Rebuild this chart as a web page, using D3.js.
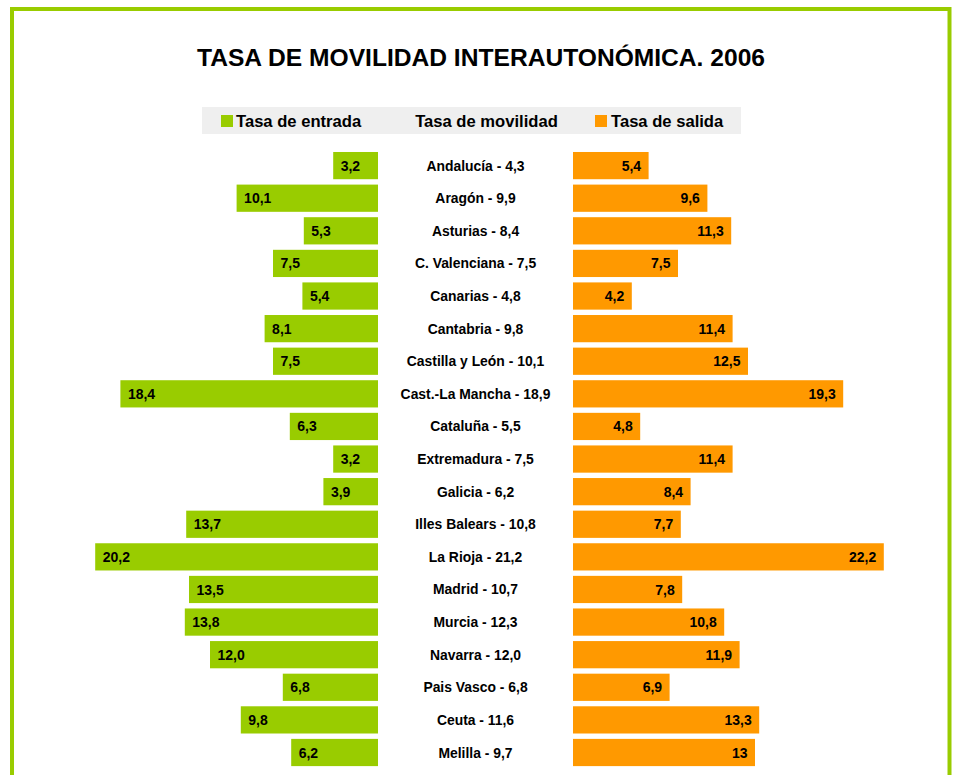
<!DOCTYPE html>
<html lang="es">
<head>
	<meta charset="UTF-8">
	<title>Tasa de movilidad interautonómica 2006</title>
	<script src="https://d3js.org/d3.v7.min.js"></script>
	<style>
		body { margin: 0; background: #fff; font-family: "Liberation Sans", Arial, sans-serif; }
		text { font-family: "Liberation Sans", Arial, sans-serif; font-weight: bold; fill: #000; }
	</style>
</head>
<body>
<div id="chart"></div>
<script>

	// Data
	const regions = ["Andalucía", "Aragón", "Asturias", "C. Valenciana", "Canarias", "Cantabria",
		"Castilla y León", "Cast.-La Mancha", "Cataluña", "Extremadura", "Galicia", "Illes Balears",
		"La Rioja", "Madrid", "Murcia", "Navarra", "Pais Vasco", "Ceuta", "Melilla"];
	const entrada = [3.2, 10.1, 5.3, 7.5, 5.4, 8.1, 7.5, 18.4, 6.3, 3.2, 3.9, 13.7, 20.2, 13.5, 13.8, 12.0, 6.8, 9.8, 6.2];
	const movilidad = [4.3, 9.9, 8.4, 7.5, 4.8, 9.8, 10.1, 18.9, 5.5, 7.5, 6.2, 10.8, 21.2, 10.7, 12.3, 12.0, 6.8, 11.6, 9.7];
	const salida = [5.4, 9.6, 11.3, 7.5, 4.2, 11.4, 12.5, 19.3, 4.8, 11.4, 8.4, 7.7, 22.2, 7.8, 10.8, 11.9, 6.9, 13.3, 13];
	const salidaLabels = ["5,4", "9,6", "11,3", "7,5", "4,2", "11,4", "12,5", "19,3", "4,8", "11,4", "8,4", "7,7", "22,2", "7,8", "10,8", "11,9", "6,9", "13,3", "13"];
	const legendLabels = ["Tasa de entrada", "Tasa de movilidad", "Tasa de salida"];

	const green = "#99CC00", orange = "#FF9900";
	const W = 956, H = 775;
	const fmt = v => v.toFixed(1).replace(".", ",");

	const data = regions.map((r, i) => ({
		region: r, entrada: entrada[i], movilidad: movilidad[i], salida: salida[i], salidaLabel: salidaLabels[i]
	}));

	const svg = d3.select("#chart").append("svg")
		.attr("width", W)
		.attr("height", H);

	// frame
	svg.append("rect")
		.attr("x", 12).attr("y", 9)
		.attr("width", 937.5).attr("height", 800)
		.attr("fill", "none")
		.attr("stroke", green)
		.attr("stroke-width", 4);

	// title
	svg.append("text")
		.attr("x", 481).attr("y", 66)
		.attr("text-anchor", "middle")
		.style("font-size", "24.6px")
		.text("TASA DE MOVILIDAD INTERAUTONÓMICA. 2006");

	// legend band
	svg.append("rect")
		.attr("x", 202).attr("y", 107)
		.attr("width", 539).attr("height", 27)
		.attr("fill", "#EFEFEF");

	const legend = svg.append("g").style("font-size", "16.6px");
	legend.append("rect").attr("x", 221).attr("y", 115).attr("width", 12).attr("height", 12).attr("fill", green);
	legend.append("text").attr("x", 236).attr("y", 127).text(legendLabels[0]);
	legend.append("text").attr("x", 486.5).attr("y", 127).attr("text-anchor", "middle").text(legendLabels[1]);
	legend.append("rect").attr("x", 595).attr("y", 115).attr("width", 12).attr("height", 12).attr("fill", orange);
	legend.append("text").attr("x", 611).attr("y", 127).text(legendLabels[2]);

	// scales
	const y = d3.scaleBand()
		.domain(regions)
		.range([149.3, 768.8])
		.paddingInner(0.165)
		.paddingOuter(0.0825);

	const xLeft = d3.scaleLinear().domain([0, 25]).range([378, 28]);
	const xRight = d3.scaleLinear().domain([0, 25]).range([573, 923]);

	// entrada bars (left)
	svg.append("g").selectAll("rect")
		.data(data)
		.join("rect")
		.attr("x", d => xLeft(d.entrada))
		.attr("y", d => y(d.region))
		.attr("width", d => xLeft(0) - xLeft(d.entrada))
		.attr("height", y.bandwidth())
		.attr("fill", green);

	svg.append("g").selectAll("text")
		.data(data)
		.join("text")
		.attr("x", d => xLeft(d.entrada) + 7.5)
		.attr("y", d => y(d.region) + y.bandwidth() / 2)
		.attr("dy", "0.36em")
		.style("font-size", "14px")
		.text(d => fmt(d.entrada));

	// salida bars (right)
	svg.append("g").selectAll("rect")
		.data(data)
		.join("rect")
		.attr("x", xRight(0))
		.attr("y", d => y(d.region))
		.attr("width", d => xRight(d.salida) - xRight(0))
		.attr("height", y.bandwidth())
		.attr("fill", orange);

	svg.append("g").selectAll("text")
		.data(data)
		.join("text")
		.attr("x", d => xRight(d.salida) - 7.5)
		.attr("y", d => y(d.region) + y.bandwidth() / 2)
		.attr("dy", "0.36em")
		.attr("text-anchor", "end")
		.style("font-size", "14px")
		.text(d => d.salidaLabel);

	// centre labels
	svg.append("g").selectAll("text")
		.data(data)
		.join("text")
		.attr("x", (xLeft(0) + xRight(0)) / 2)
		.attr("y", d => y(d.region) + y.bandwidth() / 2)
		.attr("dy", "0.36em")
		.attr("text-anchor", "middle")
		.style("font-size", "13.9px")
		.text(d => `${d.region} - ${fmt(d.movilidad)}`);

</script>
</body>
</html>
